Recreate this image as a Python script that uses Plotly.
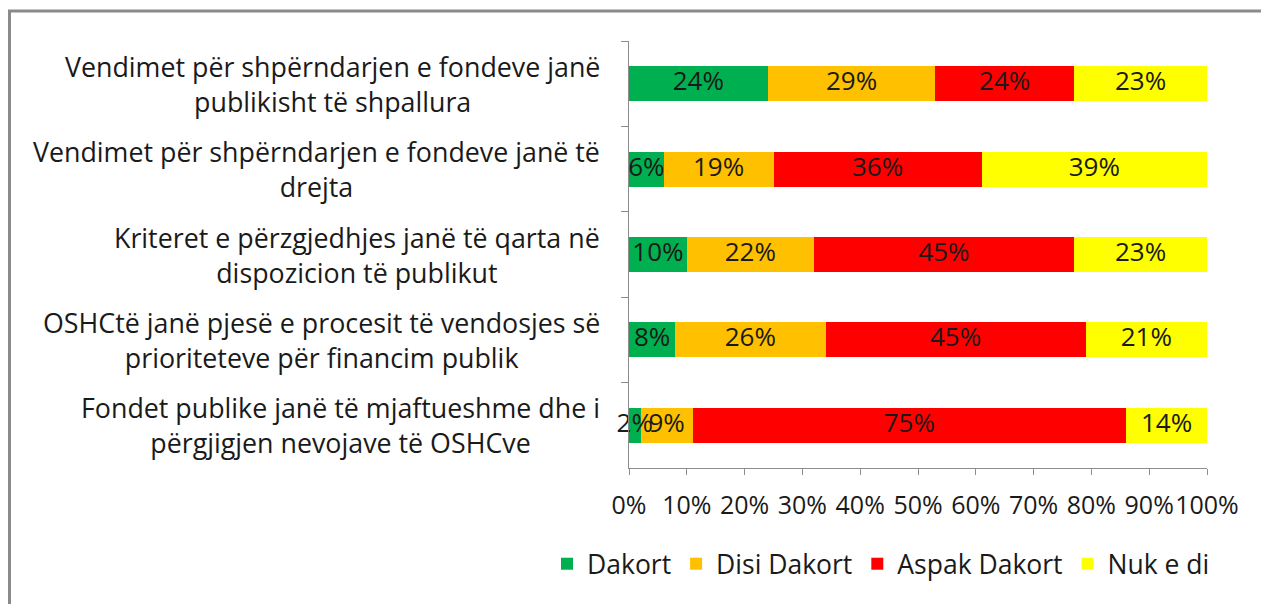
import plotly.graph_objects as go

categories = [
    "Vendimet për shpërndarjen e fondeve janë<br>publikisht të shpallura",
    "Vendimet për shpërndarjen e fondeve janë të<br>drejta",
    "Kriteret e përzgjedhjes janë të qarta në<br>dispozicion të publikut",
    "OSHCtë janë pjesë e procesit të vendosjes së<br>prioriteteve për financim publik",
    "Fondet publike janë të mjaftueshme dhe i<br>përgjigjen nevojave të OSHCve",
]
series_names = ["Dakort", "Disi Dakort", "Aspak Dakort", "Nuk e di"]
dakort = [24, 6, 10, 8, 2]
disi_dakort = [29, 19, 22, 26, 9]
aspak_dakort = [24, 36, 45, 45, 75]
nuk_e_di = [23, 39, 23, 21, 14]
colors = ["#00B050", "#FFC000", "#FF0000", "#FFFF00"]
x_ticks = [0, 10, 20, 30, 40, 50, 60, 70, 80, 90, 100]
x_tick_labels = [f"{t}%" for t in x_ticks]

FONT = "Open Sans, Lato, sans-serif"
TXT = "#1a1a1a"

all_series = [dakort, disi_dakort, aspak_dakort, nuk_e_di]

fig = go.Figure()
for name, vals, col in zip(series_names, all_series, colors):
    fig.add_trace(go.Bar(
        y=categories, x=vals, name=name, orientation="h",
        marker=dict(color=col, line=dict(width=0)),
        width=0.41, hoverinfo="x+name",
    ))

# data labels drawn on top of all segments (centred on each segment)
lab_x, lab_y, lab_t = [], [], []
for i, c in enumerate(categories):
    start = 0
    for vals in all_series:
        v = vals[i]
        lab_x.append(start + v / 2)
        lab_y.append(c)
        lab_t.append(f"{v}%")
        start += v
fig.add_trace(go.Scatter(
    x=lab_x, y=lab_y, text=lab_t, mode="text", textposition="middle center",
    textfont=dict(size=26, color=TXT, family=FONT), showlegend=False,
    hoverinfo="skip", cliponaxis=False,
))

for c in categories:
    fig.add_annotation(
        x=-0.0467, xref="paper", y=c, yref="y", text=c, showarrow=False,
        xanchor="right", yanchor="middle", align="center",
        font=dict(size=26.8, color=TXT, family=FONT),
    )

L, T, PW, PH = 621, 33, 578, 427
W, H = 1269, 604

fig.update_layout(
    barmode="stack",
    width=W, height=H,
    margin=dict(l=L, r=W - L - PW, t=T, b=H - T - PH),
    paper_bgcolor="white", plot_bgcolor="white",
    font=dict(family=FONT, size=25, color=TXT),
    showlegend=True,
    legend=dict(orientation="h", x=(539 - L) / PW, xanchor="left",
                y=(T + PH - 556) / PH, yanchor="middle",
                font=dict(size=26.5, family=FONT, color=TXT), traceorder="normal",
                itemsizing="constant", bgcolor="rgba(0,0,0,0)"),
    xaxis=dict(range=[0, 100], tickmode="array", tickvals=x_ticks, ticktext=x_tick_labels,
               tickangle=0, ticklabelstandoff=9,
               showgrid=False, showline=True, linecolor="#8c8c8c", linewidth=1,
               ticks="outside", ticklen=6, tickcolor="#8c8c8c", zeroline=False,
               tickfont=dict(size=25, family=FONT, color=TXT)),
    yaxis=dict(categoryorder="array", categoryarray=categories, autorange="reversed",
               showticklabels=False, showline=True, linecolor="#8c8c8c", linewidth=1,
               ticks="outside", ticklen=7, tickcolor="#8c8c8c", tickson="boundaries",
               showgrid=False, zeroline=False),
    shapes=[dict(type="rect", xref="paper", yref="paper",
                 x0=(1.5 - L) / PW, x1=1.3, y0=-0.6, y1=(T + PH - 3) / PH,
                 line=dict(color="#8a8a8a", width=3), fillcolor="rgba(0,0,0,0)",
                 layer="below")],
)

fig.write_html("out.html")
